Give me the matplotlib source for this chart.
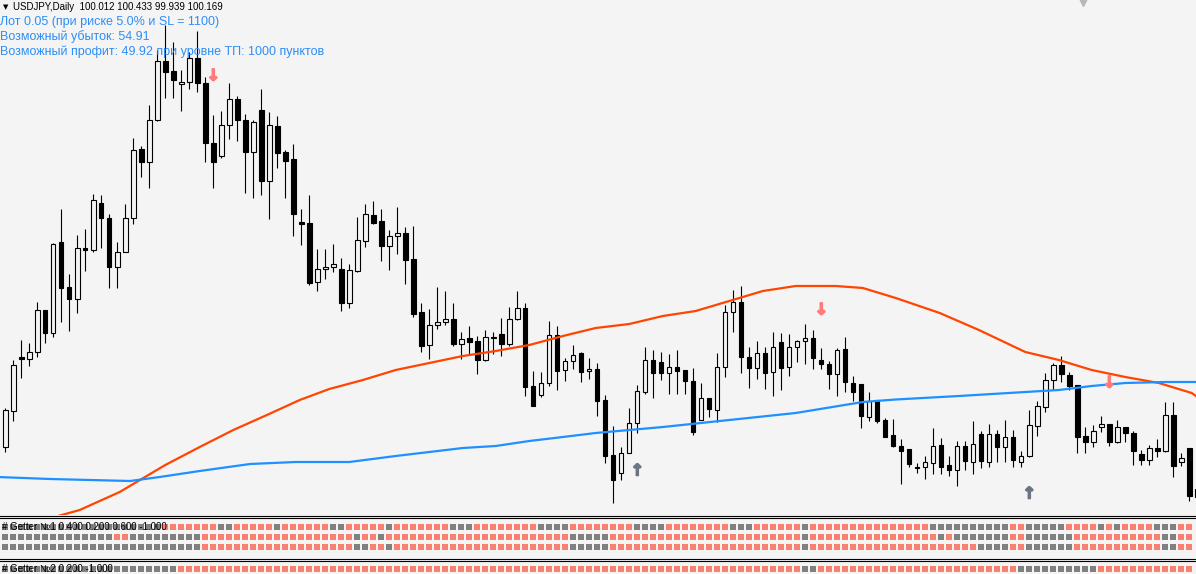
import numpy as np
import matplotlib.pyplot as plt
import matplotlib.patheffects as pe
from matplotlib.lines import Line2D

"""
Data (price levels read off the chart, in chart units: larger = lower)
"""
highs = [408, 360, 340, 343, 302, 310, 243, 209, 274, 235, 229, 194, 195, 214, 242, 204, 138, 146, 105, 50,
         25, 42, 70, 52, 31, 77, 115, 111, 83, 96, 114, 120, 89, 112, 116, 150, 144, 209, 195, 249,
         249, 244, 258, 264, 217, 204, 201, 209, 230, 207, 227, 226, 303, 309, 287, 291, 303, 332, 326, 336,
         330, 332, 318, 307, 291, 303, 371, 372, 321, 326, 358, 345, 352, 358, 363, 395, 426, 447, 408, 385,
         347, 350, 352, 354, 350, 370, 368, 383, 398, 353, 305, 290, 286, 347, 341, 347, 332, 333, 334, 340,
         324, 330, 348, 361, 348, 337, 376, 384, 392, 400, 418, 419, 439, 449, 463, 456, 428, 438, 456, 441,
         441, 421, 431, 424, 430, 420, 430, 451, 410, 401, 373, 363, 356, 372, 385, 427, 425, 416, 424, 420,
         427, 431, 450, 445, 439, 402, 402, 453, 448, 487]
opens = [447, 411, 357, 359, 352, 310, 333, 242, 287, 299, 248, 250, 203, 218, 267, 252, 218, 149, 162, 120,
         61, 71, 84, 82, 58, 83, 143, 156, 125, 99, 120, 152, 110, 181, 126, 152, 159, 222, 223, 282,
         269, 267, 269, 303, 271, 241, 215, 221, 246, 236, 233, 259, 312, 345, 325, 322, 319, 344, 338, 341,
         360, 337.5, 334, 344, 319, 308, 386, 395, 383, 335, 370, 361, 353, 371, 369, 400, 455, 473, 453, 423,
         392, 360, 362, 373, 367, 370, 381, 420, 398, 410, 367, 312, 302, 357, 368, 353, 372, 342, 367, 347,
         341, 338, 360, 364, 374, 349, 383, 384, 417, 400, 420, 435, 446, 449, 467, 467, 463, 445, 465, 470,
         446, 462, 434, 462, 434, 447, 437, 462, 456, 426, 407, 380, 365, 375, 385, 436, 442, 427, 424, 442,
         427, 433, 454, 460, 448, 451, 415, 462, 448, 489]
closes = [410, 365, 359, 352, 310, 333, 244, 288, 299, 248, 250, 200, 218, 267, 252, 218, 150, 162, 120, 61,
          72, 80, 82, 58, 83, 143, 162, 125, 99, 120, 152, 122, 181, 125, 153, 161, 214, 224, 283, 269,
          267, 264, 303, 270, 240, 214, 223, 246, 236, 233, 260, 314, 346, 325, 322, 319, 344, 339, 342, 360,
          337, 337, 344, 319, 308, 387, 406, 383, 335, 371, 361, 355, 372, 369, 401, 456, 480, 453, 423, 391,
          360, 373, 373, 367, 371, 381, 432, 398, 409, 367, 312, 302, 357, 368, 353, 373, 347, 368, 347, 341,
          338, 358, 364, 374, 350, 382, 392, 416, 401, 421, 437, 446, 451, 464, 468, 462, 446, 467, 470, 446,
          461, 444, 461, 434, 447, 437, 460, 456, 425, 406, 380, 365, 374, 386, 437, 442, 431, 424, 442, 427,
          433, 451, 460, 448, 451, 415, 466, 458, 496, 497]
lows = [452, 421, 378, 366, 357, 343, 337, 322, 331, 313, 271, 252, 248, 288, 288, 252, 224, 177, 188, 121,
        98, 98, 111, 89, 92, 162, 188, 158, 139, 141, 193, 198, 195, 219, 168, 198, 236, 245, 285, 291,
        279, 272, 311, 308, 272, 247, 224, 261, 270, 254, 284, 317, 352, 359, 329, 325, 346, 359, 355, 374,
        361, 354, 356, 346, 320, 396, 406, 397, 386, 390, 381, 369, 382, 379, 416, 463, 503, 480, 453, 433,
        394, 398, 380, 394, 394, 394, 435, 420, 417, 422, 377, 332, 373, 388, 379, 389, 396, 390, 376, 362,
        364, 369, 369, 389, 396, 392, 401, 428, 421, 423, 437, 447, 484, 467, 473, 479, 474, 474, 476, 486,
        470, 474, 468, 467, 462, 462, 467, 467, 457, 436, 412, 390, 382, 390, 453, 453, 447, 432, 446, 443,
        442, 465, 465, 465, 457, 452, 477, 466, 501, 500]

# moving averages: (bar index, level)
ma_red_bars = [5.5, 6.6, 9.3, 14.3, 20, 24.3, 28.5, 32.7, 36.8, 40.5, 44.7, 48.8, 53, 57.2, 61.3, 65.5, 69.7,
               73.8, 78, 82.2, 86.3, 90.5, 94.7, 98.8, 103.8, 107.2, 111.3, 116.8, 121.7, 127.5, 131.7,
               135.8, 140, 144.2, 148.3, 149]
ma_red_vals = [520, 516, 510, 492, 465, 447, 430, 415, 400, 389, 380, 370, 363, 356, 351, 345, 336,
               328, 324, 316, 311, 301, 291, 286, 286, 288, 298, 313, 330, 352, 360,
               370, 377, 383, 393, 397]
ma_blue_bars = [-1, 5.6, 15.6, 19.3, 24.3, 30.6, 36.3, 43, 48.8, 53, 57.2, 61.3, 65.5, 69.7, 73.8, 82.2,
                90.5, 98.8, 107.2, 111.3, 119.2, 127.5, 131.7, 135.8, 140, 145, 149]
ma_blue_vals = [477, 479, 481, 477, 471, 464, 462, 462, 456, 452, 448, 446, 441, 437, 433, 427,
                420, 413, 402, 399.5, 396, 392, 390, 386, 383, 382, 382]

sell_bars = [26, 102, 138]
sell_levels = [76, 310, 383]
buy_bars = [79, 128]
buy_levels = [471, 494]

# Getter indicator states per bar, run-length: (state, count); r = red, g = gray
getter1_rows = [
    [('g', 20), ('r', 7), ('g', 2), ('r', 5), ('g', 1), ('r', 6), ('g', 2), ('r', 5), ('g', 1), ('r', 1),
     ('r', 6), ('g', 3), ('r', 8), ('g', 4), ('r', 8), ('g', 4), ('r', 8), ('g', 3), ('r', 6),
     ('g', 1), ('r', 15), ('g', 10), ('r', 2), ('g', 5), ('r', 4), ('g', 1), ('r', 1), ('g', 1), ('r', 4),
     ('g', 3), ('r', 2)],
    [('g', 14), ('r', 2), ('g', 9), ('r', 19), ('g', 1), ('r', 2), ('g', 1), ('r', 2),
     ('r', 21), ('g', 5), ('r', 24),
     ('g', 1), ('r', 16), ('g', 1), ('r', 1), ('g', 7), ('r', 2), ('g', 6), ('r', 11), ('g', 2), ('r', 2)],
    [('g', 25), ('r', 19), ('g', 2), ('r', 2), ('g', 1), ('r', 1),
     ('r', 21), ('g', 5), ('r', 24),
     ('g', 1), ('r', 21), ('g', 4), ('r', 2), ('g', 6), ('r', 11), ('g', 2), ('r', 2)],
]
getter2_row = [('g', 22), ('r', 78), ('g', 2), ('r', 25), ('g', 10), ('r', 12)]

header = "USDJPY,Daily  100.012 100.433 99.939 100.169"
info_lines = ["Лот 0.05 (при риске 5.0% и SL = 1100)",
              "Возможный убыток: 54.91",
              "Возможный профит: 49.92 при уровне ТП: 1000 пунктов"]
getter1_label = "# Getter №1 0.400 0.200 0.600 -1.000"
getter2_label = "# Getter №2 0.200 -1.000"

"""
Plot
"""
BG = '#f4f4f4'
W, H = 1196, 574
plt.rcParams['font.family'] = ['Liberation Sans', 'DejaVu Sans']

fig = plt.figure(figsize=(W / 100, H / 100), dpi=100, facecolor=BG)
fy = lambda y: 1 - y / H

xlim = (-5.3 / 8, (W - 5.3) / 8)

ax = fig.add_axes([0, fy(515), 1, 515 / H])
ax.set_facecolor(BG)
ax.set_xlim(*xlim)
ax.set_ylim(515, 0)
ax.set_axis_off()

n = len(opens)
x = np.arange(n)
o = np.array(opens, float)
c = np.array(closes, float)
bull = c < o

ax.vlines(x, highs, lows, color='black', lw=0.8, zorder=3)
top = np.minimum(o, c)
hgt = np.abs(o - c)
ax.bar(x[bull], hgt[bull], bottom=top[bull], width=0.55, facecolor=BG,
       edgecolor='black', lw=0.8, zorder=4)
ax.bar(x[~bull], hgt[~bull], bottom=top[~bull], width=0.55, facecolor='black',
       edgecolor='black', lw=0.8, zorder=4)

ax.plot(ma_red_bars, ma_red_vals, color='#ff4500', lw=1.6, zorder=5)
ax.plot(ma_blue_bars, ma_blue_vals, color='#1e90ff', lw=1.6, zorder=5)

# signal arrows (bold glyphs, slightly thickened)
for b, lv in zip(sell_bars, sell_levels):
    ax.text(b, lv, '↓', color='#ff7b7b', fontsize=11.5, fontweight='bold',
            ha='center', va='center', family='DejaVu Sans', zorder=6,
            path_effects=[pe.withStroke(linewidth=1.2, foreground='#ff7b7b')])
for b, lv in zip(buy_bars, buy_levels):
    ax.text(b, lv, '↑', color='#6b7583', fontsize=11.5, fontweight='bold',
            ha='center', va='center', family='DejaVu Sans', zorder=6,
            path_effects=[pe.withStroke(linewidth=1.2, foreground='#6b7583')])

ax.plot([(1083 - 5.3) / 8], [1], marker='v', ms=7, color='#b8b8b8', clip_on=False, zorder=6)

# texts
fig.text(3 / W, fy(7), '▼', fontsize=5, family='DejaVu Sans', va='center', ha='left', color='black')
fig.text(13 / W, fy(7), header, fontsize=7, va='center', ha='left', color='black')
for i, s in enumerate(info_lines):
    fig.text(0.5 / W, fy(22 + 15 * i), s, fontsize=9, va='center', ha='left',
             color='#2e8ef5', zorder=0.5)

# indicator windows
axb = fig.add_axes([0, 0, 1, (H - 518) / H])
axb.set_facecolor(BG)
axb.set_xlim(*xlim)
axb.set_ylim(H, 518)
axb.set_axis_off()

colors = {'r': '#fa8072', 'g': '#808080'}


def expand(runs):
    out = []
    for s, k in runs:
        out += [s] * k
    return out


row_y = [527.3, 537.3, 547.3]
for yy, runs in zip(row_y, getter1_rows):
    st = expand(runs)
    axb.scatter(np.arange(len(st)), [yy] * len(st), marker='s', s=17,
                c=[colors[s] for s in st], linewidths=0, zorder=2)
st = expand(getter2_row)
axb.scatter(np.arange(len(st)), [569] * len(st), marker='s', s=17,
            c=[colors[s] for s in st], linewidths=0, zorder=2)

axb.text(2 / 8 - 0.66, 527.3, getter1_label, fontsize=7, va='center', ha='left', color='black', zorder=3)
axb.text(2 / 8 - 0.66, 569.5, getter2_label, fontsize=7, va='center', ha='left', color='black', zorder=3)

for yy in (516, 518, 558.7, 560.7):
    fig.add_artist(Line2D([0, 1], [fy(yy), fy(yy)], color='black', lw=0.8))

fig.savefig("out.png", dpi=100, facecolor=BG)
